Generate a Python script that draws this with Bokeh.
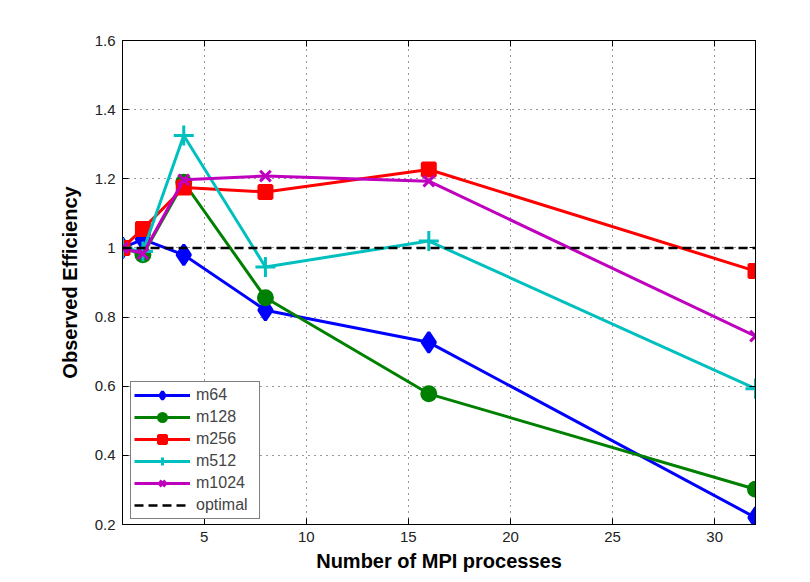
from bokeh.plotting import figure
from bokeh.models import Range1d, FixedTicker, CustomJSTickFormatter, LinearAxis, Legend
from bokeh.embed import file_html
from bokeh.resources import INLINE

procs = [1, 2, 4, 8, 16, 32]
m64 = [1.0, 1.025, 0.98, 0.82, 0.727, 0.22]
m128 = [1.0, 0.98, 1.19, 0.856, 0.578, 0.302]
m256 = [1.0, 1.055, 1.175, 1.162, 1.227, 0.933]
m512 = [1.0, 0.99, 1.325, 0.945, 1.02, 0.593]
m1024 = [1.0, 0.983, 1.197, 1.208, 1.193, 0.745]
optimal_x = [1, 32]
optimal_y = [1.0, 1.0]
x_ticks = [5, 10, 15, 20, 25, 30]
y_ticks = [0.2, 0.4, 0.6, 0.8, 1.0, 1.2, 1.4, 1.6]

FONT = "Liberation Sans"

p = figure(width=802, height=574, output_backend="svg", toolbar_location=None,
           x_range=Range1d(1, 32), y_range=Range1d(0.2, 1.6),
           min_border_left=122, min_border_top=40, min_border_right=47, min_border_bottom=48)
p.outline_line_color = "black"
p.outline_line_width = 1
p.background_fill_color = "white"
p.border_fill_color = "white"

fmt = CustomJSTickFormatter(code="var s = tick.toFixed(1); return s.endsWith('.0') ? s.slice(0, -2) : s;")

for ax in p.xaxis:
    ax.ticker = FixedTicker(ticks=x_ticks)
for ax in p.yaxis:
    ax.ticker = FixedTicker(ticks=y_ticks)
    ax.formatter = fmt

for ax in list(p.xaxis) + list(p.yaxis):
    ax.major_tick_in = 6
    ax.major_tick_out = 0
    ax.minor_tick_line_color = None
    ax.axis_line_color = "black"
    ax.major_tick_line_color = "black"
    ax.major_label_text_font = FONT
    ax.major_label_text_font_size = "15px"
    ax.major_label_text_color = "#222222"
    ax.axis_label_text_font = FONT
    ax.axis_label_text_font_style = "bold"
    ax.axis_label_text_font_size = "20px"
    ax.axis_label_text_color = "black"

p.xaxis.axis_label = "Number of MPI processes"
p.yaxis.axis_label = "Observed Efficiency"
p.xaxis.major_label_standoff = 7
p.yaxis.major_label_standoff = 7
p.yaxis.axis_label_standoff = 11
p.xaxis.axis_label_standoff = 5

empty = CustomJSTickFormatter(code="return '';")
top = LinearAxis(ticker=FixedTicker(ticks=x_ticks), formatter=empty, major_tick_in=6, major_tick_out=0,
                 minor_tick_line_color=None, axis_line_color="black")
right = LinearAxis(ticker=FixedTicker(ticks=y_ticks), formatter=empty, major_tick_in=6, major_tick_out=0,
                   minor_tick_line_color=None, axis_line_color="black")
p.add_layout(top, "above")
p.add_layout(right, "right")

p.xgrid.ticker = FixedTicker(ticks=x_ticks)
p.ygrid.ticker = FixedTicker(ticks=y_ticks)
for g in (p.xgrid, p.ygrid):
    g.grid_line_color = "black"
    g.grid_line_dash = "1 5"
    g.grid_line_width = 1
    g.grid_line_alpha = 0.8

items = []
series = [
    ("m64", m64, "#0000ff", "diamond", 20),
    ("m128", m128, "#008000", "circle", 14),
    ("m256", m256, "#ff0000", "square", 13),
    ("m512", m512, "#00bfbf", "cross", 20),
    ("m1024", m1024, "#bf00bf", "x", 15),
]
for name, ys, col, mk, sz in series:
    r1 = p.line(procs, ys, line_color=col, line_width=3)
    r2 = p.scatter(procs, ys, marker=mk, size=sz, fill_color=col, line_color=col, line_width=3)
    items.append((name, [r1, r2]))

ro = p.line(optimal_x, optimal_y, line_color="black", line_width=2.5, line_dash="9 5")
items.append(("optimal", [ro]))

legend = Legend(items=items, location=(8, 5))
legend.label_text_font = FONT
legend.label_text_font_size = "16px"
legend.border_line_color = "black"
legend.border_line_width = 1
legend.background_fill_color = "white"
legend.background_fill_alpha = 1
legend.spacing = 2
legend.padding = 3
legend.margin = 0
legend.glyph_width = 56
legend.glyph_height = 20
legend.label_standoff = 6
legend.label_height = 20
legend.label_width = 60
p.add_layout(legend, "center")

open("out.html", "w").write(file_html(p, INLINE))
